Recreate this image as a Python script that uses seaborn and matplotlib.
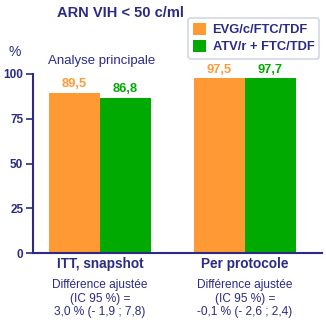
import matplotlib
matplotlib.use("Agg")
import matplotlib.pyplot as plt
import seaborn as sns
import pandas as pd

# Data
groups = ["ITT, snapshot", "Per protocole"]
regimens = ["EVG/c/FTC/TDF", "ATV/r + FTC/TDF"]
evg_values = [89.5, 97.5]
atv_values = [86.8, 97.7]
value_labels_evg = ["89,5", "97,5"]
value_labels_atv = ["86,8", "97,7"]
diff_notes = [
    "Différence ajustée\n(IC 95 %) =\n3,0 % (- 1,9 ; 7,8)",
    "Différence ajustée\n(IC 95 %) =\n-0,1 % (- 2,6 ; 2,4)",
]
yticks = [0, 25, 50, 75, 100]

navy = "#2B2B86"
orange = "#FF9933"
green = "#00AA00"

sns.set_style("white")
plt.rcParams["font.family"] = ["Liberation Sans", "DejaVu Sans"]

df = pd.DataFrame({
    "group": groups * 2,
    "regimen": [regimens[0]] * 2 + [regimens[1]] * 2,
    "value": evg_values + atv_values,
})

fig = plt.figure(figsize=(3.26, 3.22), dpi=100)
ax = fig.add_axes([33 / 326, (322 - 253) / 322, (322 - 33) / 326, (253 - 74) / 322])

sns.barplot(data=df, x="group", y="value", hue="regimen",
            palette=[orange, green], width=0.705, saturation=1,
            edgecolor="none", linewidth=0, ax=ax, legend=True)

ax.set_ylim(0, 100)
ax.set_xlim(-0.462, 1.531)
ax.set_yticks(yticks)
ax.set_yticklabels([str(t) for t in yticks], fontsize=8.5, fontweight="bold", color=navy)
ax.tick_params(axis="y", direction="out", length=5, width=1.2, color=navy, pad=2, left=True)
ax.tick_params(axis="x", length=0, pad=3)
ax.set_xticks([0, 1])
ax.set_xticklabels(groups, fontsize=9.8, fontweight="bold", color=navy)
ax.set_xlabel("")
ax.set_ylabel("")
for side in ["top", "right"]:
    ax.spines[side].set_visible(False)
for side in ["left", "bottom"]:
    ax.spines[side].set_color(navy)
    ax.spines[side].set_linewidth(1.5)

# Value labels above the bars
offset = 0.176
for i in range(2):
    ax.text(i - offset, evg_values[i] + 1.3, value_labels_evg[i], ha="center", va="bottom",
            color=orange, fontsize=9.3, fontweight="bold")
    ax.text(i + offset, atv_values[i] + 1.3, value_labels_atv[i], ha="center", va="bottom",
            color=green, fontsize=9.3, fontweight="bold")

# Adjusted difference notes under each group
for i, note in enumerate(diff_notes):
    ax.text(i, -14.6, note, ha="center", va="top", color=navy, fontsize=8.6,
            linespacing=1.17)

# Titles and annotations
fig.text(120 / 326, 1 - 13 / 322, "ARN VIH < 50 c/ml", ha="center", va="center",
         color=navy, fontsize=10.5, fontweight="bold")
fig.text(15 / 326, 1 - 52 / 322, "%", ha="center", va="center", color=navy, fontsize=10)
fig.text(48 / 326, 1 - 61 / 322, "Analyse principale", ha="left", va="center",
         color=navy, fontsize=9.5)

leg = ax.legend(loc="upper left", bbox_to_anchor=(188 / 326, 1 - 18 / 322),
                bbox_transform=fig.transFigure, frameon=True, fancybox=True,
                fontsize=9.3, handlelength=1.0, handleheight=1.0, handletextpad=0.5,
                borderpad=0.4, labelspacing=0.3, borderaxespad=0)
leg.get_frame().set_edgecolor("#C8CCE0")
leg.get_frame().set_linewidth(1.2)
for t in leg.get_texts():
    t.set_color(navy)
    t.set_fontweight("bold")

fig.savefig("out.png", dpi=100)
